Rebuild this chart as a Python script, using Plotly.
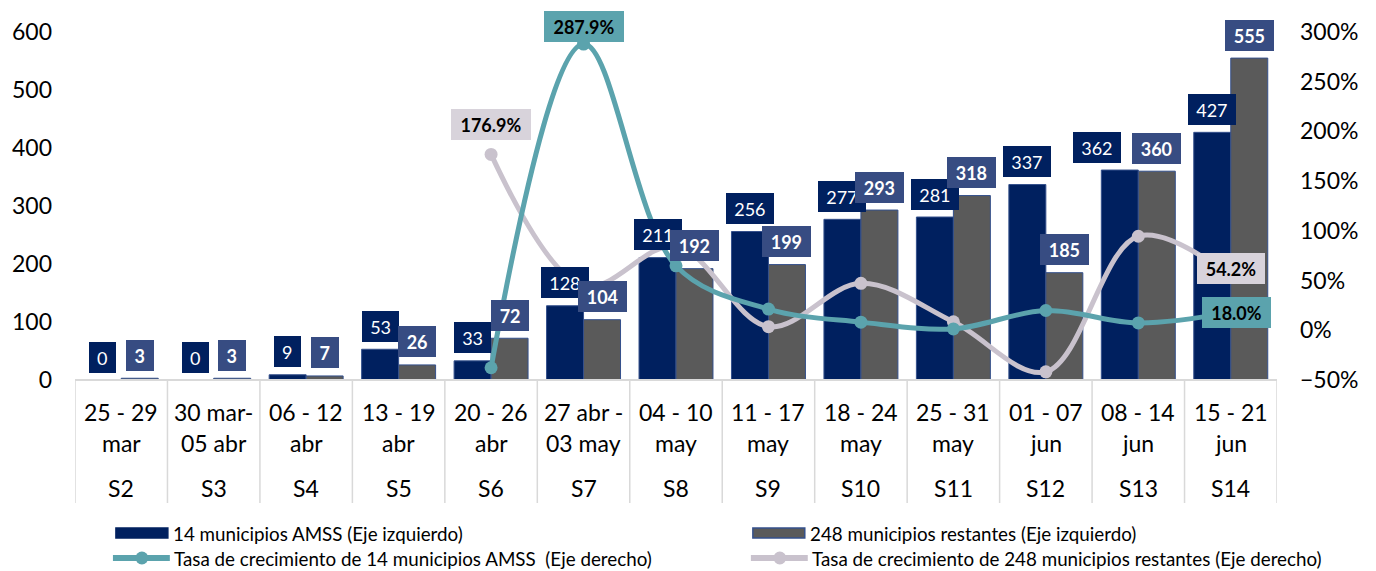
import plotly.graph_objects as go

# ---------------- data ----------------
weeks = ["S2", "S3", "S4", "S5", "S6", "S7", "S8", "S9", "S10", "S11", "S12", "S13", "S14"]
dates_top = ["25 - 29", "30 mar-", "06 - 12", "13 - 19", "20 - 26", "27 abr -", "04 - 10",
             "11 - 17", "18 - 24", "25 - 31", "01 - 07", "08 - 14", "15 - 21"]
dates_bottom = ["mar", "05 abr", "abr", "abr", "abr", "03 may", "may",
                "may", "may", "may", "jun", "jun", "jun"]
amss = [0, 0, 9, 53, 33, 128, 211, 256, 277, 281, 337, 362, 427]
rest = [3, 3, 7, 26, 72, 104, 192, 199, 293, 318, 185, 360, 555]
growth_amss = [None, None, None, None, -37.7, 287.9, 64.8, 21.3, 8.2, 1.4, 19.9, 7.4, 18.0]
growth_rest = [None, None, None, None, 176.9, 44.4, 84.6, 3.6, 47.2, 8.5, -41.8, 94.6, 54.2]

names = ["14 municipios AMSS (Eje izquierdo)",
         "248 municipios restantes (Eje izquierdo)",
         "Tasa de crecimiento de 14 municipios AMSS  (Eje derecho)",
         "Tasa de crecimiento de 248 municipios restantes (Eje derecho)"]

# ---------------- style ----------------
FONT = "Lato"
NAVY = "#00205F"
GREY_BAR = "#5A5A5A"
BAR_EDGE = "#34508C"
REST_LABEL = "#374C82"
TEAL = "#5BA3AD"
LILAC = "#C9C2CD"
LILAC_BOX = "#D8D3DB"
SEP = "#D9D9D9"

W, H = 1376, 571
# plot area in page pixels
PX0, PX1, PY0, PY1 = 73, 1277, 32, 380
PW, PH = PX1 - PX0, PY1 - PY0
L, T, R, B = PX0, PY0, W - PX1, H - PY1


def px(x):
    return (x - PX0) / PW


def py(y):
    return (PY1 - y) / PH


x = list(range(len(weeks)))

fig = go.Figure()
fig.add_trace(go.Bar(x=x, y=amss, name=names[0], marker=dict(color=NAVY, line=dict(color=BAR_EDGE, width=1)),
                     showlegend=False))
fig.add_trace(go.Bar(x=x, y=rest, name=names[1], marker=dict(color=GREY_BAR, line=dict(color=BAR_EDGE, width=1)),
                     showlegend=False))
fig.add_trace(go.Scatter(x=x, y=growth_rest, yaxis="y2", mode="lines+markers", name=names[3],
                         line=dict(color=LILAC, width=5, shape="spline", smoothing=1.0),
                         marker=dict(size=13, color=LILAC), showlegend=False))
fig.add_trace(go.Scatter(x=x, y=growth_amss, yaxis="y2", mode="lines+markers", name=names[2],
                         line=dict(color=TEAL, width=5, shape="spline", smoothing=1.0),
                         marker=dict(size=13, color=TEAL), showlegend=False))

ann = []
shapes = []


def box_w(txt):
    return 16 + 10.6 * len(txt)


# bar value labels
nudge_amss = {11: -23}
for i, v in enumerate(amss):
    t = str(v)
    ann.append(dict(x=i - 0.2, y=v, xref="x", yref="y", text=t, showarrow=False,
                    yshift=23, xshift=nudge_amss.get(i, 0), width=box_w(t), height=31,
                    bgcolor=NAVY, borderpad=0, borderwidth=0,
                    font=dict(family=FONT, size=18, color="white")))
for i, v in enumerate(rest):
    t = str(v)
    ann.append(dict(x=i + 0.2, y=v, xref="x", yref="y", text="<b>%s</b>" % t, showarrow=False,
                    yshift=23, width=box_w(t) + 1, height=31,
                    bgcolor=REST_LABEL, borderpad=0, borderwidth=0,
                    font=dict(family=FONT, size=18, color="white")))

# growth labels (selected points)
pct_labels = [
    (growth_amss, 5, TEAL, 0, 17.5, 80),
    (growth_amss, 12, TEAL, 6, 0, 69),
    (growth_rest, 4, LILAC_BOX, 0, 30, 80),
    (growth_rest, 12, LILAC_BOX, 0, 8, 68),
]
for series, i, col, xs, ys, w in pct_labels:
    ann.append(dict(x=i, y=series[i], xref="x", yref="y2", text="<b>%.1f%%</b>" % series[i],
                    showarrow=False, xshift=xs, yshift=ys, width=w, height=31,
                    bgcolor=col, borderpad=0, borderwidth=0,
                    font=dict(family=FONT, size=18, color="black")))

# category labels
for i in x:
    ann.append(dict(x=i, y=py(412), xref="x", yref="paper", text=dates_top[i], showarrow=False,
                    yanchor="middle", font=dict(family=FONT, size=23, color="black")))
    ann.append(dict(x=i, y=py(443), xref="x", yref="paper", text=dates_bottom[i], showarrow=False,
                    yanchor="middle", font=dict(family=FONT, size=23, color="black")))
    ann.append(dict(x=i, y=py(488), xref="x", yref="paper", text=weeks[i], showarrow=False,
                    yanchor="middle", font=dict(family=FONT, size=23, color="black")))

for i in range(len(weeks) + 1):
    shapes.append(dict(type="line", xref="x", yref="paper", x0=i - 0.5, x1=i - 0.5,
                       y0=0, y1=py(503), line=dict(color=SEP, width=1.5)))
shapes.append(dict(type="line", xref="paper", yref="paper", x0=0, x1=1, y0=0, y1=0,
                   line=dict(color=SEP, width=2)))

# custom legend
leg = [
    ("bar", 114, 533, NAVY, NAVY, names[0]),
    ("bar", 752, 533, GREY_BAR, BAR_EDGE, names[1]),
    ("line", 111, 558, TEAL, TEAL, names[2]),
    ("line", 750, 558, LILAC, LILAC, names[3]),
]
for kind, x0, yc, col, edge, label in leg:
    if kind == "bar":
        shapes.append(dict(type="rect", xref="paper", yref="paper", x0=px(x0), x1=px(x0 + 52),
                           y0=py(yc + 5), y1=py(yc - 5), fillcolor=col, line=dict(color=edge, width=1.5)))
        tx = x0 + 55
    else:
        shapes.append(dict(type="line", xref="paper", yref="paper", x0=px(x0), x1=px(x0 + 57),
                           y0=py(yc), y1=py(yc), line=dict(color=col, width=6)))
        shapes.append(dict(type="circle", xref="paper", yref="paper", x0=px(x0 + 29 - 6.5), x1=px(x0 + 29 + 6.5),
                           y0=py(yc + 6.5), y1=py(yc - 6.5), fillcolor=col, line=dict(color=col, width=0)))
        tx = x0 + 59
    ann.append(dict(x=px(tx), y=py(yc), xref="paper", yref="paper", text=label, showarrow=False,
                    xanchor="left", yanchor="middle", font=dict(family=FONT, size=18.8, color="black")))

fig.update_layout(
    width=W, height=H,
    margin=dict(l=L, r=R, t=T, b=B),
    paper_bgcolor="white", plot_bgcolor="white",
    barmode="group", bargap=0.2, bargroupgap=0,
    font=dict(family=FONT, color="black"),
    showlegend=False,
    xaxis=dict(range=[-0.5, len(weeks) - 0.5], showticklabels=False, showgrid=False, zeroline=False,
               showline=False, fixedrange=True),
    yaxis=dict(range=[0, 600], tickmode="linear", tick0=0, dtick=100, showgrid=False, zeroline=False,
               showline=False, ticklabelstandoff=22, tickfont=dict(family=FONT, size=23, color="black")),
    yaxis2=dict(range=[-50, 300], tickmode="linear", tick0=-50, dtick=50, ticksuffix="%", overlaying="y",
                side="right", showgrid=False, zeroline=False, showline=False, ticklabelstandoff=22,
                tickfont=dict(family=FONT, size=23, color="black")),
    annotations=ann,
    shapes=shapes,
)

fig.write_html("out.html", config={"displayModeBar": False},
               post_script="document.body.style.margin='0';document.body.style.overflow='hidden';")
